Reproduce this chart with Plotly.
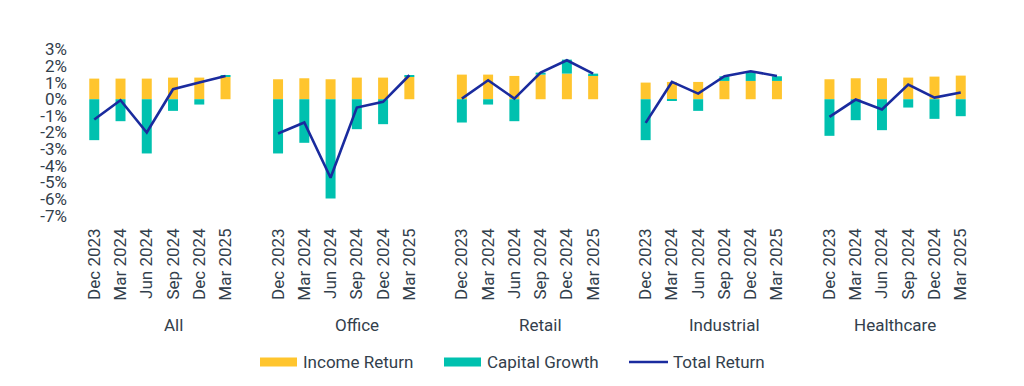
import plotly.graph_objects as go

# ---------------- data ----------------
sectors = ["All", "Office", "Retail", "Industrial", "Healthcare"]
quarters = ["Dec 2023", "Mar 2024", "Jun 2024", "Sep 2024", "Dec 2024", "Mar 2025"]

income_return = [
    [1.24, 1.24, 1.24, 1.30, 1.30, 1.34],   # All
    [1.20, 1.26, 1.20, 1.30, 1.30, 1.36],   # Office
    [1.48, 1.48, 1.40, 1.48, 1.54, 1.44],   # Retail
    [1.00, 1.04, 1.04, 1.10, 1.10, 1.10],   # Industrial
    [1.20, 1.26, 1.26, 1.30, 1.36, 1.42],   # Healthcare
]
capital_growth = [
    [-2.46, -1.32, -3.26, -0.70, -0.32, 0.06],
    [-3.26, -2.62, -5.96, -1.80, -1.50, 0.08],
    [-1.40, -0.32, -1.32, 0.12, 0.84, 0.10],
    [-2.46, -0.06, -0.70, 0.28, 0.56, 0.28],
    [-2.20, -1.26, -1.86, -0.50, -1.18, -1.02],
]
total_return = [
    [-1.22, -0.06, -2.00, 0.60, 1.00, 1.40],
    [-2.06, -1.40, -4.72, -0.50, -0.16, 1.44],
    [0.04, 1.14, 0.04, 1.60, 2.34, 1.54],
    [-1.42, 1.04, 0.34, 1.38, 1.68, 1.40],
    [-1.06, -0.02, -0.62, 0.88, 0.10, 0.40],
]
y_ticks = [3, 2, 1, 0, -1, -2, -3, -4, -5, -6, -7]
y_tick_labels = ["3%", "2%", "1%", "0%", "-1%", "-2%", "-3%", "-4%", "-5%", "-6%", "-7%"]

# ---------------- styling ----------------
YELLOW = "#FFC52E"
TEAL = "#00C1AF"
BLUE = "#1A2B9E"
TEXT = "#33404C"
FONT = "Roboto"
FS = 17

W, H = 1024, 386
ML, MR, MT, MB = 68, 37, 41, 162
PW, PH = W - ML - MR, H - MT - MB
SLOT = 7  # 6 quarters + one empty slot between sectors


def px_x(px):
    return (px - ML) / PW


def px_y(py):
    return 1 - (py - MT) / PH


xs, inc, cap, labels = [], [], [], []
line_x, line_y = [], []
for g, sec in enumerate(sectors):
    for i, q in enumerate(quarters):
        x = g * SLOT + i
        xs.append(x)
        labels.append(q)
        inc.append(income_return[g][i])
        cap.append(capital_growth[g][i])
        line_x.append(x)
        line_y.append(total_return[g][i])
    line_x.append(None)
    line_y.append(None)

fig = go.Figure()
fig.add_trace(go.Bar(x=xs, y=inc, name="Income Return", marker_color=YELLOW,
                     width=0.38, marker_line_width=0))
fig.add_trace(go.Bar(x=xs, y=cap, name="Capital Growth", marker_color=TEAL,
                     width=0.38, marker_line_width=0))
fig.add_trace(go.Scatter(x=line_x, y=line_y, name="Total Return", mode="lines",
                         line=dict(color=BLUE, width=2.6), connectgaps=False))

# sector labels
for g, sec in enumerate(sectors):
    span = len(quarters) if g == len(sectors) - 1 else SLOT
    cx = g * SLOT + (span - 1) / 2
    fig.add_annotation(x=cx, xref="x", y=px_y(325), yref="paper", text=sec,
                       showarrow=False, font=dict(family=FONT, size=FS, color=TEXT),
                       xanchor="center", yanchor="middle")

# legend drawn as swatches + labels
legend_y = 362
shapes = [
    dict(type="rect", xref="paper", yref="paper", x0=px_x(260), x1=px_x(297),
         y0=px_y(legend_y + 4.5), y1=px_y(legend_y - 4.5), fillcolor=YELLOW, line_width=0),
    dict(type="rect", xref="paper", yref="paper", x0=px_x(444), x1=px_x(481),
         y0=px_y(legend_y + 4.5), y1=px_y(legend_y - 4.5), fillcolor=TEAL, line_width=0),
    dict(type="line", xref="paper", yref="paper", x0=px_x(629), x1=px_x(668),
         y0=px_y(legend_y), y1=px_y(legend_y), line=dict(color=BLUE, width=2.6)),
]
for tx, name in [(301, "Income Return"), (485, "Capital Growth"), (671, "Total Return")]:
    fig.add_annotation(x=px_x(tx), xref="paper", y=px_y(legend_y), yref="paper", text=name,
                       showarrow=False, font=dict(family=FONT, size=FS, color=TEXT),
                       xanchor="left", yanchor="middle")

fig.update_layout(
    width=W, height=H,
    margin=dict(l=ML, r=MR, t=MT, b=MB, pad=0),
    paper_bgcolor="white", plot_bgcolor="white",
    barmode="relative",
    showlegend=False,
    shapes=shapes,
    font=dict(family=FONT, size=FS, color=TEXT),
    xaxis=dict(range=[-1, 34], tickvals=xs, ticktext=labels, tickangle=-90,
               showgrid=False, zeroline=False, showline=False, ticks="",
               tickfont=dict(family=FONT, size=FS, color=TEXT)),
    yaxis=dict(range=[-7.5, 3.5], tickvals=y_ticks, ticktext=y_tick_labels,
               showgrid=False, zeroline=False, showline=False, ticks="",
               tickfont=dict(family=FONT, size=FS, color=TEXT)),
)

fig.write_html("out.html", config={"displayModeBar": False},
               post_script="document.body.style.margin='0';")
